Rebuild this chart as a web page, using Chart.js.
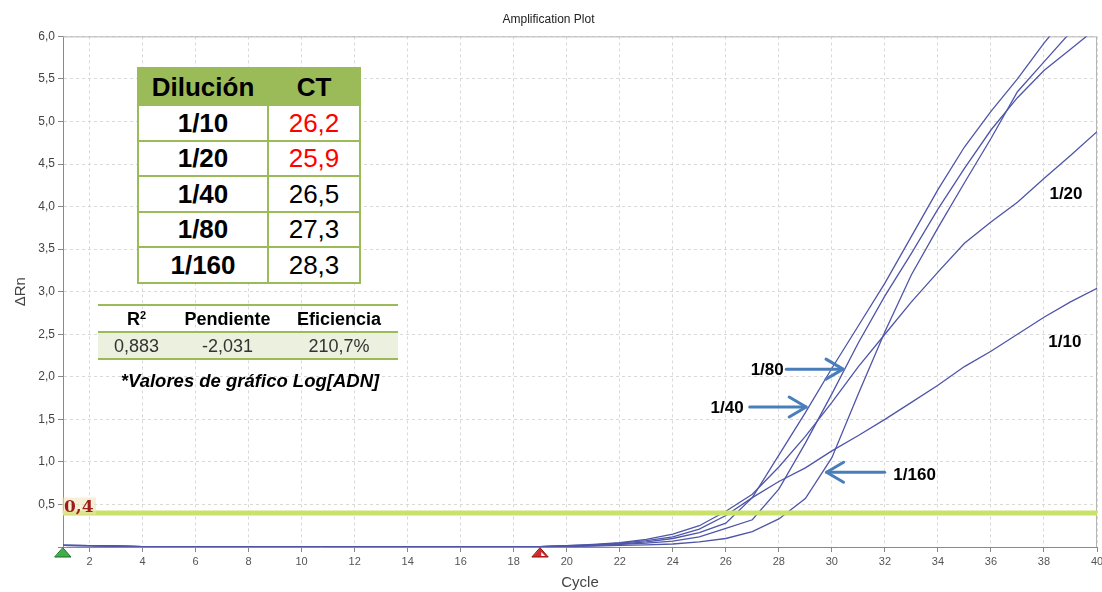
<!DOCTYPE html>
<html>
<head>
<meta charset="utf-8">
<script src="https://cdn.jsdelivr.net/npm/chart.js@4.4.1/dist/chart.umd.min.js"></script>
<style>
  html, body { margin: 0; padding: 0; background: #fff; }
  #wrap { position: relative; width: 1102px; height: 592px; overflow: hidden;
          font-family: "Liberation Sans", Arial, sans-serif; color: #000; }
  #plot { position: absolute; left: 0; top: 0; }
  .tag { position: absolute; white-space: nowrap; font-weight: bold; font-size: 17px;
         transform: translate(-50%, -50%); line-height: 1; }
  table { border-collapse: collapse; table-layout: fixed; position: absolute; }
  #ctTable { left: 137px; top: 67px; width: 222px; background: #fff; }
  #ctTable th, #ctTable td { border: 2px solid #9bbb59; text-align: center; padding: 0;
                             font-size: 26px; line-height: 1; }
  #ctTable th { background: #9bbb59; height: 35px; font-weight: bold; }
  #ctTable td { height: 33.5px; }
  #ctTable td.dil { font-weight: bold; }
  #fitTable { left: 98px; top: 304px; width: 300px; }
  #fitTable th, #fitTable td { text-align: center; padding: 0; font-size: 18px; line-height: 1; }
  #fitTable th { height: 25px; font-weight: bold; border-top: 2px solid #9bbb59; border-bottom: 2px solid #9bbb59; }
  #fitTable td { height: 25px; background: #ebf1de; color: #333; border-bottom: 2px solid #9bbb59; }
  #fitTable sup { font-size: 11px; vertical-align: 6px; }
  #note { position: absolute; left: 250px; top: 381px; transform: translate(-50%, -50%);
          font-weight: bold; font-style: italic; font-size: 18.5px; white-space: nowrap; }
  #thr { position: absolute; font-family: "DejaVu Serif", "Liberation Serif", serif; font-weight: bold;
         font-size: 17px; color: #9e1b1b; background: rgba(243, 228, 180, 0.55); padding: 0 2px;
         transform: translate(0, -50%); line-height: 1; }
</style>
</head>
<body>
<div id="wrap">
  <canvas id="plot" width="1102" height="592"></canvas>
  <table id="ctTable"><colgroup><col style="width:130px"><col style="width:92px"></colgroup>
    <thead><tr><th>Dilución</th><th>CT</th></tr></thead><tbody id="ctBody"></tbody></table>
  <table id="fitTable"><colgroup><col style="width:77px"><col style="width:105px"><col style="width:118px"></colgroup>
    <thead><tr><th>R<sup>2</sup></th><th>Pendiente</th><th>Eficiencia</th></tr></thead>
    <tbody><tr><td id="r2"></td><td id="slope"></td><td id="eff"></td></tr></tbody></table>
  <div id="note">*Valores de gráfico Log[ADN]</div>
  <div id="thr"></div>
</div>
<script>
// Amplification cycles and ΔRn readings for each dilution
const cycles = [1,2,3,4,5,6,7,8,9,10,11,12,13,14,15,16,17,18,19,20,
                21,22,23,24,25,26,27,28,29,30,31,32,33,34,35,36,37,38,39,40];

const dil10  = [0.02,0.015,0.01,0.005,0,0,0,0,0,0,0,0,0,0,0,0,0,0,
                0.005,0.015,0.025,0.045,0.075,0.12,0.21,0.37,0.58,0.77,0.93,1.13,
                1.31,1.50,1.70,1.90,2.12,2.30,2.50,2.70,2.88,3.04];
const dil20  = [0.02,0.015,0.01,0.005,0,0,0,0,0,0,0,0,0,0,0,0,0,0,
                0.005,0.015,0.03,0.05,0.09,0.15,0.25,0.42,0.62,0.94,1.30,1.70,
                2.12,2.50,2.88,3.23,3.57,3.82,4.05,4.33,4.60,4.88];
const dil40  = [0.02,0.015,0.01,0.005,0,0,0,0,0,0,0,0,0,0,0,0,0,0,
                0.004,0.012,0.02,0.035,0.06,0.10,0.17,0.28,0.58,1.08,1.58,2.10,
                2.60,3.10,3.65,4.20,4.70,5.12,5.50,5.92,6.30,6.65];
const dil80  = [0.02,0.015,0.01,0.005,0,0,0,0,0,0,0,0,0,0,0,0,0,0,
                0.003,0.01,0.018,0.03,0.045,0.07,0.12,0.22,0.32,0.68,1.22,1.80,
                2.40,2.95,3.45,3.97,4.45,4.90,5.28,5.60,5.85,6.10];
const dil160 = [0.02,0.015,0.01,0.005,0,0,0,0,0,0,0,0,0,0,0,0,0,0,
                0.002,0.006,0.01,0.018,0.025,0.035,0.06,0.10,0.18,0.33,0.57,1.05,
                1.80,2.53,3.20,3.75,4.28,4.80,5.35,5.70,6.05,6.40];

const dilutions = ['1/10', '1/20', '1/40', '1/80', '1/160'];
const ctValues  = [26.2, 25.9, 26.5, 27.3, 28.3];
const ctFlagged = [true, true, false, false, false];
const threshold = 0.4;
const baselineStart = 1;
const baselineEnd = 19;
const fitR2 = 0.883;
const fitSlope = -2.031;
const fitEfficiency = 210.7;
const xTickValues = [2,4,6,8,10,12,14,16,18,20,22,24,26,28,30,32,34,36,38,40];

const comma = (v, d) => v.toFixed(d).replace('.', ',');

// CT summary table
const ctBody = document.getElementById('ctBody');
dilutions.forEach((d, i) => {
  const tr = document.createElement('tr');
  const a = document.createElement('td'); a.className = 'dil'; a.textContent = d;
  const b = document.createElement('td'); b.textContent = comma(ctValues[i], 1);
  if (ctFlagged[i]) b.style.color = '#ff0000';
  tr.appendChild(a); tr.appendChild(b); ctBody.appendChild(tr);
});
document.getElementById('r2').textContent = comma(fitR2, 3);
document.getElementById('slope').textContent = comma(fitSlope, 3);
document.getElementById('eff').textContent = comma(fitEfficiency, 1) + '%';
document.getElementById('thr').textContent = comma(threshold, 1);

// Curve labels and pointer arrows, in cycle / ΔRn units
const curveTags = [
  { text: '1/20',  x: 38.83, y: 4.16 },
  { text: '1/10',  x: 38.79, y: 2.42 },
  { text: '1/80',  x: 27.56, y: 2.09 },
  { text: '1/40',  x: 26.05, y: 1.645 },
  { text: '1/160', x: 33.12, y: 0.86 }
];
const pointers = [
  { from: [28.28, 2.09], to: [30.42, 2.09] },
  { from: [26.90, 1.645], to: [29.03, 1.645] },
  { from: [31.99, 0.878], to: [29.80, 0.878] }
];

const series = [dil10, dil20, dil40, dil80, dil160];
const curveColor = '#4f55a8';
const datasets = series.map((vals, i) => ({
  label: dilutions[i],
  data: cycles.map((c, k) => ({ x: c, y: vals[k] })),
  borderColor: curveColor,
  borderWidth: 1.3,
  pointRadius: 0,
  tension: 0,
  fill: false,
  order: 2
}));
datasets.push({
  label: 'Threshold',
  data: [{ x: cycles[0], y: threshold }, { x: cycles[cycles.length - 1], y: threshold }],
  borderColor: '#c9e26a',
  borderWidth: 5,
  pointRadius: 0,
  order: 1
});

const Y_AXIS_WIDTH = 63;
const X_AXIS_HEIGHT = 45;

const framePlugin = {
  id: 'frame',
  beforeDatasetsDraw(chart) {
    const { ctx, chartArea: a } = chart;
    ctx.save();
    ctx.strokeStyle = '#b5b5b5';
    ctx.lineWidth = 1;
    ctx.beginPath();
    ctx.moveTo(a.left, a.top + 0.5); ctx.lineTo(a.right - 0.5, a.top + 0.5); ctx.lineTo(a.right - 0.5, a.bottom);
    ctx.stroke();
    ctx.restore();
  },
  afterDraw(chart) {
    const { ctx, scales: { x, y } } = chart;
    ctx.save();
    // pointer arrows
    ctx.strokeStyle = '#4a7ebb';
    ctx.lineWidth = 3;
    ctx.lineCap = 'round';
    ctx.lineJoin = 'round';
    pointers.forEach(p => {
      const x0 = x.getPixelForValue(p.from[0]), y0 = y.getPixelForValue(p.from[1]);
      const x1 = x.getPixelForValue(p.to[0]),   y1 = y.getPixelForValue(p.to[1]);
      const dir = Math.sign(x1 - x0);
      ctx.beginPath(); ctx.moveTo(x0, y0); ctx.lineTo(x1, y1); ctx.stroke();
      ctx.beginPath();
      ctx.moveTo(x1 - dir * 17, y1 - 10); ctx.lineTo(x1, y1); ctx.lineTo(x1 - dir * 17, y1 + 10);
      ctx.stroke();
    });
    // baseline start / end markers
    const tri = (cx, cy, fill, edge) => {
      ctx.beginPath();
      ctx.moveTo(cx, cy); ctx.lineTo(cx + 8, cy + 9); ctx.lineTo(cx - 8, cy + 9); ctx.closePath();
      ctx.fillStyle = fill; ctx.fill();
      ctx.lineWidth = 1; ctx.strokeStyle = edge; ctx.stroke();
    };
    const by = y.getPixelForValue(0) + 1;
    tri(x.getPixelForValue(baselineStart), by, '#3fae49', '#1d6b25');
    const rx = x.getPixelForValue(baselineEnd);
    tri(rx, by, '#d22a2a', '#8a1010');
    ctx.beginPath();
    ctx.moveTo(rx + 1, by + 4); ctx.lineTo(rx + 5, by + 8); ctx.lineTo(rx + 1, by + 8); ctx.closePath();
    ctx.fillStyle = '#fff'; ctx.fill();
    ctx.restore();
    placeTags(chart);
  }
};

let tagsPlaced = false;
function placeTags(chart) {
  if (tagsPlaced) return;
  tagsPlaced = true;
  const { x, y } = chart.scales;
  const wrap = document.getElementById('wrap');
  curveTags.forEach(t => {
    const d = document.createElement('div');
    d.className = 'tag';
    d.textContent = t.text;
    d.style.left = x.getPixelForValue(t.x) + 'px';
    d.style.top = y.getPixelForValue(t.y) + 'px';
    wrap.appendChild(d);
  });
  const thr = document.getElementById('thr');
  thr.style.left = (chart.chartArea.left - 1) + 'px';
  thr.style.top = (y.getPixelForValue(threshold) - 7) + 'px';
}

Chart.defaults.font.family = '"Liberation Sans", Arial, sans-serif';

const gridStyle = { color: '#d9d9d9', tickColor: '#888', tickLength: 5, tickBorderDash: [] };

new Chart(document.getElementById('plot'), {
  type: 'line',
  data: { datasets },
  plugins: [framePlugin],
  options: {
    responsive: false,
    animation: false,
    devicePixelRatio: 1,
    layout: { padding: { left: 0, right: 5, top: 0, bottom: 0 } },
    plugins: {
      legend: { display: false },
      tooltip: { enabled: false },
      title: {
        display: true,
        text: 'Amplification Plot',
        color: '#222',
        font: { size: 12, weight: 'normal' },
        padding: { top: 12, bottom: 10 }
      }
    },
    scales: {
      x: {
        type: 'linear',
        min: 1,
        max: 40,
        afterBuildTicks: s => { s.ticks = xTickValues.map(v => ({ value: v })); },
        afterFit: s => { s.height = X_AXIS_HEIGHT; s.paddingLeft = 0; s.paddingRight = 0; },
        ticks: { color: '#555', font: { size: 11 }, padding: 3, maxRotation: 0, autoSkip: false },
        grid: gridStyle,
        border: { color: '#8a8a8a', width: 1, dash: [3, 3] },
        title: { display: true, text: 'Cycle', color: '#444', font: { size: 15 }, padding: { top: 0, bottom: 0 } }
      },
      y: {
        min: 0,
        max: 6,
        afterFit: s => { s.width = Y_AXIS_WIDTH; },
        ticks: {
          stepSize: 0.5,
          color: '#444',
          font: { size: 12 },
          padding: 3,
          callback: v => (v === 0 ? '' : comma(v, 1))
        },
        grid: gridStyle,
        border: { color: '#8a8a8a', width: 1, dash: [3, 3] },
        title: { display: true, text: 'ΔRn', color: '#444', font: { size: 15 }, padding: { top: 12, bottom: 0 } }
      }
    }
  }
});
</script>
</body>
</html>
